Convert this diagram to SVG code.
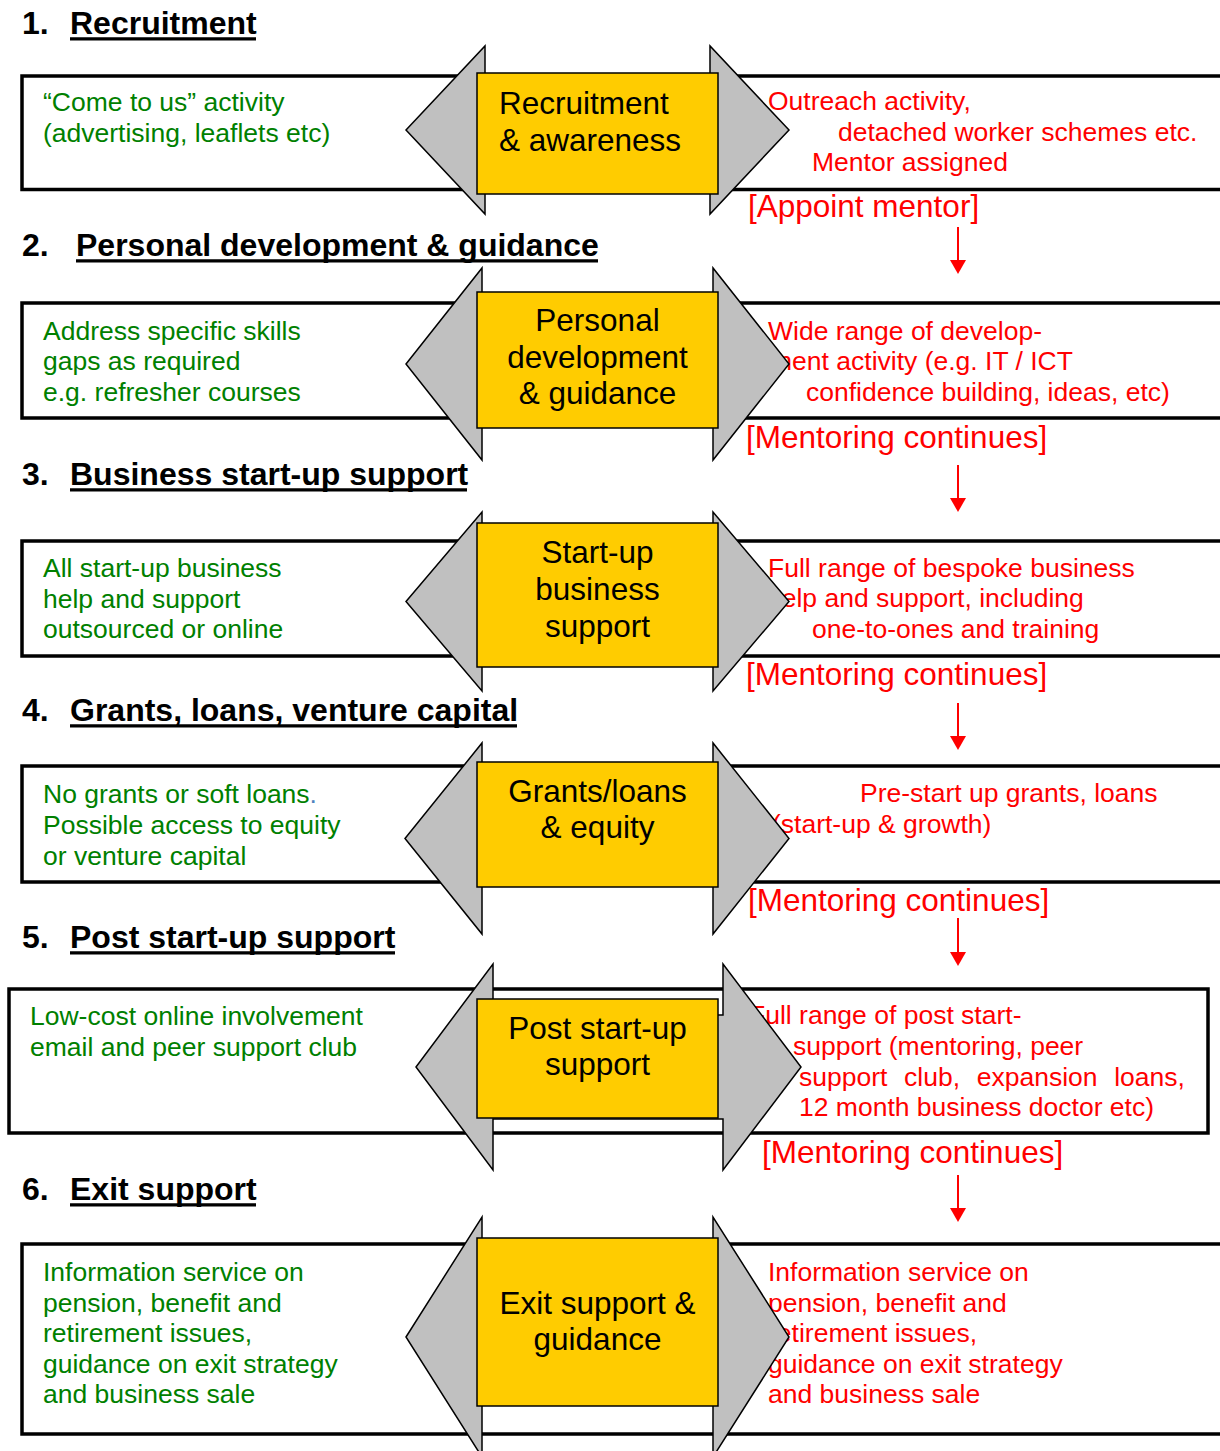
<svg xmlns="http://www.w3.org/2000/svg" width="1220" height="1451" viewBox="0 0 1220 1451">
<style>
.bg{fill:#fff}
.box{fill:#fff;stroke:#000;stroke-width:3.5}
.arr{fill:#C0C0C0;stroke:#000;stroke-width:1.5;stroke-linejoin:miter}
.ybox{fill:#FFCC00;stroke:#000;stroke-width:1.5}
text{font-family:"Liberation Sans",Arial,Helvetica,sans-serif}
.h{font-size:32px;font-weight:bold;fill:#000}
.y{font-size:31.5px;fill:#000;text-anchor:middle}
.ys{font-size:31.5px;fill:#000}
.g{font-size:26.5px;fill:#008000}
.r{font-size:26.5px;fill:#FF0000}
.m{font-size:31.5px;fill:#FF0000}
.ul{stroke:#000;stroke-width:3.3}
.conn line{stroke:#FF0000;stroke-width:2}
.conn polygon{fill:#FF0000}
</style>
<rect class="bg" x="0" y="0" width="1220" height="1451"/>

<g id="headings">
<text class="h" x="22" y="34">1.</text><text class="h" x="70" y="34">Recruitment</text><line class="ul" x1="70" y1="38.8" x2="256" y2="38.8"/>
<text class="h" x="22" y="256">2.</text><text class="h" x="76" y="256">Personal development &amp; guidance</text><line class="ul" x1="76" y1="260.8" x2="598" y2="260.8"/>
<text class="h" x="22" y="485">3.</text><text class="h" x="70" y="485">Business start-up support</text><line class="ul" x1="70" y1="489.8" x2="467" y2="489.8"/>
<text class="h" x="22" y="721">4.</text><text class="h" x="70" y="721">Grants, loans, venture capital</text><line class="ul" x1="70" y1="725.8" x2="517" y2="725.8"/>
<text class="h" x="22" y="948">5.</text><text class="h" x="70" y="948">Post start-up support</text><line class="ul" x1="70" y1="952.8" x2="395" y2="952.8"/>
<text class="h" x="22" y="1200">6.</text><text class="h" x="70" y="1200">Exit support</text><line class="ul" x1="70" y1="1204.8" x2="256" y2="1204.8"/>
</g>

<g id="stage1">
<rect class="box" x="22" y="76" width="1200" height="113.5"/>
<text class="g" x="43" y="111">“Come to us” activity</text>
<text class="g" x="43" y="142">(advertising, leaflets etc)</text>
<text class="r" x="768" y="110">Outreach activity,</text>
<text class="r" x="838" y="141">detached worker schemes etc.</text>
<text class="r" x="812" y="171">Mentor assigned</text>
<polygon class="arr" points="406,130 485,46 485,100 710,100 710,46 789,130 710,214 710,160 485,160 485,214"/>
<rect class="ybox" x="477" y="73" width="241" height="121"/>
<text class="ys" x="499" y="114">Recruitment</text>
<text class="ys" x="499" y="151">&amp; awareness</text>
<text class="m" x="748" y="217">[Appoint mentor]</text>
</g>

<g id="stage2">
<rect class="box" x="22" y="303" width="1200" height="115"/>
<text class="g" x="43" y="340">Address specific skills</text>
<text class="g" x="43" y="370">gaps as required</text>
<text class="g" x="43" y="401">e.g. refresher courses</text>
<text class="r" x="768" y="340">Wide range of develop-</text>
<text class="r" x="770" y="370">ment activity (e.g. IT / ICT</text>
<text class="r" x="806" y="401">confidence building, ideas, etc)</text>
<polygon class="arr" points="406,364 482,268 482,330 713,330 713,268 789,364 713,460 713,400 482,400 482,460"/>
<rect class="ybox" x="477" y="292" width="241" height="136"/>
<text class="y" x="597.5" y="331">Personal</text>
<text class="y" x="597.5" y="368">development</text>
<text class="y" x="597.5" y="404">&amp; guidance</text>
<text class="m" x="746" y="448">[Mentoring continues]</text>
</g>

<g id="stage3">
<rect class="box" x="22" y="541" width="1200" height="115"/>
<text class="g" x="43" y="577">All start-up business</text>
<text class="g" x="43" y="608">help and support</text>
<text class="g" x="43" y="638">outsourced or online</text>
<text class="r" x="768" y="577">Full range of bespoke business</text>
<text class="r" x="767" y="607">help and support, including</text>
<text class="r" x="812" y="638">one-to-ones and training</text>
<polygon class="arr" points="406,601.5 482,512 482,560 713,560 713,512 789,601.5 713,691 713,640 482,640 482,691"/>
<rect class="ybox" x="477" y="523" width="241" height="144"/>
<text class="y" x="597.5" y="563">Start-up</text>
<text class="y" x="597.5" y="600">business</text>
<text class="y" x="597.5" y="637">support</text>
<text class="m" x="746" y="685">[Mentoring continues]</text>
</g>

<g id="stage4">
<rect class="box" x="22" y="766" width="1200" height="116"/>
<text class="g" x="43" y="803">No grants or soft loans<tspan fill="#4F81BD">.</tspan></text>
<text class="g" x="43" y="834">Possible access to equity</text>
<text class="g" x="43" y="865">or venture capital</text>
<text class="r" x="860" y="802">Pre-start up grants, loans</text>
<text class="r" x="772" y="833">(start-up &amp; growth)</text>
<polygon class="arr" points="405,838.5 482,743 482,790 713,790 713,743 789,838.5 713,934 713,870 482,870 482,934"/>
<rect class="ybox" x="477" y="762" width="241" height="125"/>
<text class="y" x="597.5" y="802">Grants/loans</text>
<text class="y" x="597.5" y="838">&amp; equity</text>
<text class="m" x="748" y="911">[Mentoring continues]</text>
</g>

<g id="stage5">
<rect class="box" x="9" y="989" width="1199" height="144"/>
<text class="g" x="30" y="1025">Low-cost online involvement</text>
<text class="g" x="30" y="1056">email and peer support club</text>
<text class="r" x="749" y="1024">Full range of post start-</text>
<text class="r" x="793" y="1055">support (mentoring, peer</text>
<text class="r" x="799" y="1086" word-spacing="9.3">support club, expansion loans,</text>
<text class="r" x="799" y="1116">12 month business doctor etc)</text>
<polygon class="arr" points="416,1067 493,964 493,1015 723,1015 723,964 801,1067 723,1170 723,1119 493,1119 493,1170"/>
<rect class="ybox" x="477" y="999" width="241" height="119"/>
<text class="y" x="597.5" y="1039">Post start-up</text>
<text class="y" x="597.5" y="1075">support</text>
<text class="m" x="762" y="1163">[Mentoring continues]</text>
</g>

<g id="stage6">
<rect class="box" x="22" y="1244" width="1200" height="190"/>
<text class="g" x="43" y="1281">Information service on</text>
<text class="g" x="43" y="1312">pension, benefit and</text>
<text class="g" x="43" y="1342">retirement issues,</text>
<text class="g" x="43" y="1373">guidance on exit strategy</text>
<text class="g" x="43" y="1403">and business sale</text>
<text class="r" x="768" y="1281">Information service on</text>
<text class="r" x="768" y="1312">pension, benefit and</text>
<text class="r" x="768" y="1342">retirement issues,</text>
<text class="r" x="768" y="1373">guidance on exit strategy</text>
<text class="r" x="768" y="1403">and business sale</text>
<polygon class="arr" points="406,1337 482,1217 482,1270 713,1270 713,1217 789,1337 713,1457 713,1400 482,1400 482,1457"/>
<rect class="ybox" x="477" y="1238" width="241" height="168"/>
<text class="y" x="597.5" y="1314">Exit support &amp;</text>
<text class="y" x="597.5" y="1350">guidance</text>
</g>

<g id="connectors" class="conn">
<line x1="958" y1="227" x2="958" y2="262"/><polygon points="950,260 966,260 958,274"/>
<line x1="958" y1="465" x2="958" y2="500"/><polygon points="950,498 966,498 958,512"/>
<line x1="958" y1="703" x2="958" y2="738"/><polygon points="950,736 966,736 958,750"/>
<line x1="958" y1="918" x2="958" y2="954"/><polygon points="950,952 966,952 958,966"/>
<line x1="958" y1="1175" x2="958" y2="1210"/><polygon points="950,1208 966,1208 958,1222"/>
</g>
</svg>
